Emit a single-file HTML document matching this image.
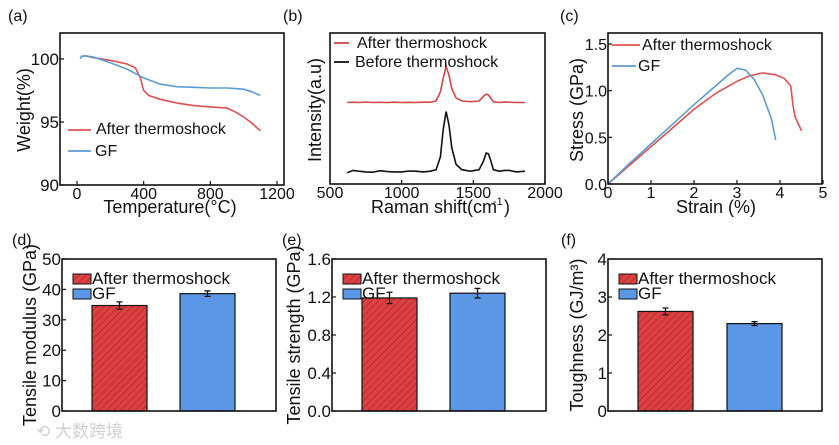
<!DOCTYPE html>
<html><head><meta charset="utf-8">
<style>
html,body{margin:0;padding:0;background:#fff;}
svg{display:block;font-family:"Liberation Sans","Noto Sans CJK SC",sans-serif;}
</style></head>
<body>
<svg id="fig" width="839" height="445" viewBox="0 0 839 445" xmlns="http://www.w3.org/2000/svg">
<defs>
<pattern id="hatch" patternUnits="userSpaceOnUse" width="5" height="5" patternTransform="rotate(45)">
<rect width="5" height="5" fill="#dc4040"/>
<line x1="0" y1="0" x2="0" y2="5" stroke="#a82828" stroke-width="1.4"/>
</pattern>
</defs>
<text x="36" y="437" font-size="17" fill="#d0d0d0">⟲ 大数跨境</text>
</svg>
<script>
// ---- data ----
const tgaRedX=[25,50,100,200,300,350,380,400,430,500,600,700,800,900,950,1000,1050,1100];
const tgaRedY=[100.2,100.25,100.1,99.9,99.6,99.3,98.5,97.5,97.1,96.8,96.5,96.3,96.2,96.1,95.8,95.4,94.9,94.3];
const tgaGfX=[20,25,50,100,200,300,400,500,600,700,800,900,1000,1050,1100];
const tgaGfY=[100,100.2,100.25,100.15,99.7,99.2,98.5,98.0,97.8,97.75,97.7,97.7,97.6,97.4,97.1];
const tgaXTicks=[0,400,800,1200];
const tgaYTicks=[90,95,100];

const ramanX=[620,660,700,750,800,850,900,950,1000,1050,1100,1150,1200,1240,1270,1290,1310,1330,1350,1380,1420,1480,1540,1570,1590,1605,1620,1640,1680,1720,1750,1800,1860];
const ramanRed=[5.4,5.42,5.4,5.43,5.4,5.41,5.4,5.42,5.4,5.41,5.4,5.42,5.42,5.5,6.1,7.0,7.8,7.2,6.3,5.7,5.5,5.45,5.5,5.8,5.95,5.9,5.7,5.45,5.4,5.44,5.42,5.4,5.4];
const ramanBlack=[0.75,0.9,0.85,0.8,0.78,0.88,0.82,0.8,0.8,0.86,0.85,0.8,0.85,0.95,1.8,3.6,4.8,3.9,2.4,1.3,0.95,0.85,0.95,1.5,2.05,2.0,1.6,0.95,0.85,0.9,0.9,0.8,0.85];
const ramanXTicks=[500,1000,1500,2000];

const ssRedX=[0,0.5,1,1.5,2,2.5,3,3.3,3.6,3.9,4.1,4.25,4.3,4.35,4.45,4.5];
const ssRedY=[0,0.2,0.4,0.6,0.8,0.97,1.1,1.16,1.19,1.17,1.13,1.05,0.85,0.72,0.62,0.57];
const ssGfX=[0,0.5,1,1.5,2,2.5,2.8,3.0,3.2,3.4,3.6,3.8,3.9];
const ssGfY=[0,0.22,0.43,0.64,0.85,1.05,1.17,1.24,1.22,1.12,0.95,0.7,0.47];
const ssXTicks=[0,1,2,3,4,5];
const ssYTicks=[0.0,0.5,1.0,1.5];

const barCats=["After thermoshock","GF"];
const modulusVals=[34.7,38.6], modulusErr=[1.2,0.9];
const modulusTicks=[0,10,20,30,40,50];
const strengthVals=[1.19,1.24], strengthErr=[0.06,0.05];
const strengthTicks=["0.0","0.4","0.8","1.2","1.6"];
const toughVals=[2.62,2.30], toughErr=[0.09,0.05];
const toughTicks=[0,1,2,3,4];

// ---- helpers ----
const svg=document.getElementById('fig');
const NS='http://www.w3.org/2000/svg';
function mk(tag,attrs,name,parent){
  const el=document.createElementNS(NS,tag);
  for(const k in attrs) el.setAttribute(k,attrs[k]);
  
  
  (parent||svg).appendChild(el);
  return el;
}
function txt(x,y,s,size,name,anchor,extra){
  const t=mk('text',Object.assign({x:x,y:y,'font-size':size,'text-anchor':anchor||'start',fill:'#111'},extra||{}),name);
  t.textContent=s; return t;
}
function lin(d0,d1,r0,r1){return v=>r0+(v-d0)*(r1-r0)/(d1-d0);}
function frame(L,T,R,B,name){
  mk('rect',{x:L,y:T,width:R-L,height:B-T,fill:'none',stroke:'#111','stroke-width':1.6},name);
}
function line(xs,ys,sx,sy,color,name){
  const d=xs.map((x,i)=>(i?'L':'M')+sx(x).toFixed(1)+' '+sy(ys[i]).toFixed(1)).join(' ');
  mk('path',{d:d,fill:'none',stroke:color,'stroke-width':1.6},name);
}
function xticks(ticks,sx,B,name,size){
  ticks.forEach(t=>{
    mk('line',{x1:sx(+t),x2:sx(+t),y1:B,y2:B-4,stroke:'#111','stroke-width':1.2},name+'-tick');
    txt(sx(+t),B+14,String(t),size||16,name+'-label','middle');
  });
}
function yticks(ticks,sy,L,name,size){
  ticks.forEach(t=>{
    mk('line',{x1:L,x2:L+4,y1:sy(+t),y2:sy(+t),stroke:'#111','stroke-width':1.2},name+'-tick');
    txt(L-1,sy(+t)+6,String(t),size||16,name+'-label','end');
  });
}
function ylabel(x,y,s,name,size){
  txt(x,y,s,size||17,name,'middle',{transform:'rotate(-90 '+x+' '+y+')'});
}
const RED='#e05050', BLUE='#5b9bd5';

// ---- (a) TGA ----
(function(){
  const L=60,T=33,R=284,B=185;
  const sx=lin(0,1200,77,277), sy=lin(90,100,185,59);
  txt(8,21,'(a)',16,'panel-label-a');
  line(tgaRedX,tgaRedY,sx,sy,RED,'tga-after-thermoshock-line');
  line(tgaGfX,tgaGfY,sx,sy,BLUE,'tga-gf-line');
  frame(L,T,R,B,'tga-plot-frame');
  xticks(tgaXTicks,sx,B,'tga-x');
  yticks(tgaYTicks,sy,L,'tga-y',17);
  txt(170,213,'Temperature(°C)',18,'tga-x-axis-title','middle');
  ylabel(30,110,'Weight(%)','tga-y-axis-title',18);
  mk('line',{x1:68,x2:91,y1:130,y2:130,stroke:RED,'stroke-width':1.8},'legend-after-thermoshock-swatch');
  txt(96,134,'After thermoshock',16,'legend-after-thermoshock');
  mk('line',{x1:68,x2:91,y1:151,y2:151,stroke:BLUE,'stroke-width':1.8},'legend-gf-swatch');
  txt(95,156,'GF',16,'legend-gf');
})();

// ---- (b) Raman ----
(function(){
  const L=330,T=33,R=545,B=184;
  const sx=lin(500,2000,L,R), sy=lin(0,10,B,B-151);
  txt(283,21,'(b)',16,'panel-label-b');
  line(ramanX,ramanRed,sx,sy,'#d04848','raman-after-thermoshock-line');
  line(ramanX,ramanBlack,sx,sy,'#111','raman-before-thermoshock-line');
  frame(L,T,R,B,'raman-plot-frame');
  xticks(ramanXTicks,sx,B,'raman-x');
  txt(434,213,'Raman shift(cm',18,'raman-x-axis-title','middle');
  txt(493,205,'-1',11,'raman-x-axis-superscript');
  txt(504,213,')',18,'raman-x-axis-close');
  ylabel(321,110,'Intensity(a.u)','raman-y-axis-title',18);
  mk('line',{x1:334,x2:349,y1:43,y2:43,stroke:'#d04848','stroke-width':1.8},'legend-after-thermoshock-swatch');
  txt(357,48,'After thermoshock',16,'legend-after-thermoshock');
  mk('line',{x1:334,x2:349,y1:62,y2:62,stroke:'#111','stroke-width':1.8},'legend-before-thermoshock-swatch');
  txt(355,67,'Before thermoshock',16,'legend-before-thermoshock');
})();

// ---- (c) Stress-strain ----
(function(){
  const L=608,T=33,R=822,B=184;
  const sx=lin(0,5,608,823), sy=lin(0,1.5,184,44);
  txt(560,21,'(c)',16,'panel-label-c');
  line(ssRedX,ssRedY,sx,sy,RED,'stress-strain-after-thermoshock-line');
  line(ssGfX,ssGfY,sx,sy,BLUE,'stress-strain-gf-line');
  frame(L,T,R,B,'stress-strain-plot-frame');
  xticks(ssXTicks,sx,B,'stress-strain-x');
  yticks(ssYTicks.map(v=>v.toFixed(1)),sy,L,'stress-strain-y');
  txt(716,213,'Strain (%)',18,'stress-strain-x-axis-title','middle');
  ylabel(583,110,'Stress (GPa)','stress-strain-y-axis-title',18);
  mk('line',{x1:612,x2:640,y1:45,y2:45,stroke:RED,'stroke-width':1.8},'legend-after-thermoshock-swatch');
  txt(642,50,'After thermoshock',16,'legend-after-thermoshock');
  mk('line',{x1:612,x2:636,y1:66,y2:66,stroke:BLUE,'stroke-width':1.8},'legend-gf-swatch');
  txt(638,71,'GF',16,'legend-gf');
})();

// ---- bar panels ----
function barPanel(o){
  const {L,R,T,B,vals,errs,ticks,max,bx,bw,label,lx,ylab,yx,name}=o;
  const sy=lin(0,max,B,T);
  txt(lx,245,label,16,'panel-label-'+name);
  vals.forEach((v,i)=>{
    mk('rect',{x:bx[i],y:sy(v),width:bw,height:B-sy(v),fill:i?'#5b97e5':'url(#hatch)',stroke:'#111','stroke-width':1.2},name+'-bar-'+(i?'gf':'after-thermoshock'));
    const cx=bx[i]+bw/2, e=errs[i];
    mk('path',{d:`M${cx} ${sy(v+e)} V${sy(v-e)} M${cx-3} ${sy(v+e)} H${cx+3} M${cx-3} ${sy(v-e)} H${cx+3}`,stroke:'#111','stroke-width':1.3,fill:'none'},name+'-error-bar-'+i);
  });
  frame(L,T,R,B,name+'-plot-frame');
  yticks(ticks,sy,L,name+'-y',17);
  ylabel(yx,335,ylab,name+'-y-axis-title',18);
  mk('rect',{x:L+11,y:T+15,width:18,height:10,fill:'url(#hatch)',stroke:'#111','stroke-width':1},name+'-legend-after-thermoshock-swatch');
  txt(L+30,T+25,barCats[0],17,name+'-legend-after-thermoshock');
  mk('rect',{x:L+11,y:T+30,width:18,height:10,fill:'#5b97e5',stroke:'#111','stroke-width':1},name+'-legend-gf-swatch');
  txt(L+30,T+40,barCats[1],17,name+'-legend-gf');
}
barPanel({L:62,R:276,T:259,B:411,vals:modulusVals,errs:modulusErr,ticks:modulusTicks,max:50,bx:[92,180],bw:55,label:'(d)',lx:12,ylab:'Tensile modulus (GPa)',yx:36,name:'modulus'});
barPanel({L:332,R:546,T:259,B:411,vals:strengthVals,errs:strengthErr,ticks:strengthTicks,max:1.6,bx:[362,450],bw:55,label:'(e)',lx:282,ylab:'Tensile strength (GPa)',yx:300,name:'strength'});
barPanel({L:608,R:822,T:259,B:411,vals:toughVals,errs:toughErr,ticks:toughTicks,max:4,bx:[638,727],bw:55,label:'(f)',lx:561,ylab:'Toughness (GJ/m³)',yx:583,name:'toughness'});
</script>
</body></html>
